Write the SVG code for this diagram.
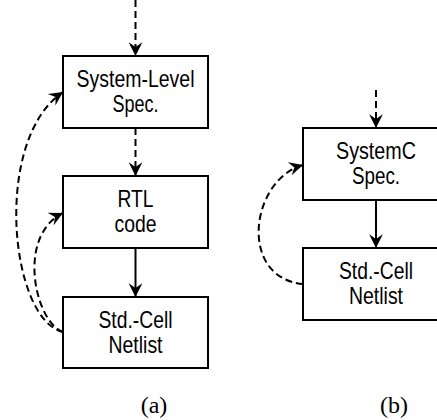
<svg xmlns="http://www.w3.org/2000/svg" width="437" height="420" viewBox="0 0 437 420">
  <defs>
    <marker id="arrow" markerUnits="userSpaceOnUse" markerWidth="18" markerHeight="18" viewBox="-15 -8 17 16" refX="0" refY="0" orient="auto">
      <path d="M0,0 L-13,-6.5 L-8.5,0 L-13,6.5 Z" fill="#000" stroke="none"/>
    </marker>
  </defs>
  <style>
    .box { fill: #fff; stroke: #000; stroke-width: 2; }
    .lbl { font-family: "Liberation Sans", Arial, sans-serif; font-size: 24px; fill: #000; text-anchor: middle; }
    .cap { font-family: "Liberation Serif", "Times New Roman", serif; font-size: 24px; fill: #000; text-anchor: middle; }
    .solid { fill: none; stroke: #000; stroke-width: 2; marker-end: url(#arrow); }
    .dash { fill: none; stroke: #000; stroke-width: 2; stroke-dasharray: 7 4; marker-end: url(#arrow); }
  </style>

  <rect width="437" height="420" fill="#fff"/>

  <!-- flow (a) -->
  <g id="sys-spec">
    <rect class="box" x="63" y="56" width="145" height="72"/>
    <text class="lbl" x="135.5" y="87" textLength="118" lengthAdjust="spacingAndGlyphs">System-Level</text>
    <text class="lbl" x="135.5" y="112" textLength="46" lengthAdjust="spacingAndGlyphs">Spec.</text>
  </g>
  <g id="rtl-code">
    <rect class="box" x="63" y="176" width="145" height="72"/>
    <text class="lbl" x="135.5" y="207" textLength="36" lengthAdjust="spacingAndGlyphs">RTL</text>
    <text class="lbl" x="135.5" y="232" textLength="42" lengthAdjust="spacingAndGlyphs">code</text>
  </g>
  <g id="netlist-a">
    <rect class="box" x="63" y="297" width="145" height="71"/>
    <text class="lbl" x="135.5" y="328" textLength="74" lengthAdjust="spacingAndGlyphs">Std.-Cell</text>
    <text class="lbl" x="135.5" y="353" textLength="54" lengthAdjust="spacingAndGlyphs">Netlist</text>
  </g>

  <!-- flow (b) -->
  <g id="systemc-spec">
    <rect class="box" x="303" y="128" width="146" height="72"/>
    <text class="lbl" x="376" y="159" textLength="80" lengthAdjust="spacingAndGlyphs">SystemC</text>
    <text class="lbl" x="376" y="184" textLength="48" lengthAdjust="spacingAndGlyphs">Spec.</text>
  </g>
  <g id="netlist-b">
    <rect class="box" x="303" y="248" width="146" height="72"/>
    <text class="lbl" x="376" y="279" textLength="74" lengthAdjust="spacingAndGlyphs">Std.-Cell</text>
    <text class="lbl" x="376" y="304" textLength="54" lengthAdjust="spacingAndGlyphs">Netlist</text>
  </g>

  <!-- connectors -->
  <g id="connectors">
    <path class="dash" d="M135.5,0 L135.5,56"/>
    <path class="dash" d="M135.5,128 L135.5,176"/>
    <path class="solid" d="M135.5,248 L135.5,297"/>
    <path class="dash" d="M63,332 C10,320 -8,140 63,92"/>
    <path class="dash" d="M63,332 C35,322 16,236 63,213"/>

    <path class="dash" d="M376,90 L376,128"/>
    <path class="solid" d="M376,200 L376,248"/>
    <path class="dash" d="M303,284 C238,278 250,180 303,165"/>
  </g>

  <!-- captions -->
  <text class="cap" x="154" y="413">(a)</text>
  <text class="cap" x="394" y="413">(b)</text>
</svg>
